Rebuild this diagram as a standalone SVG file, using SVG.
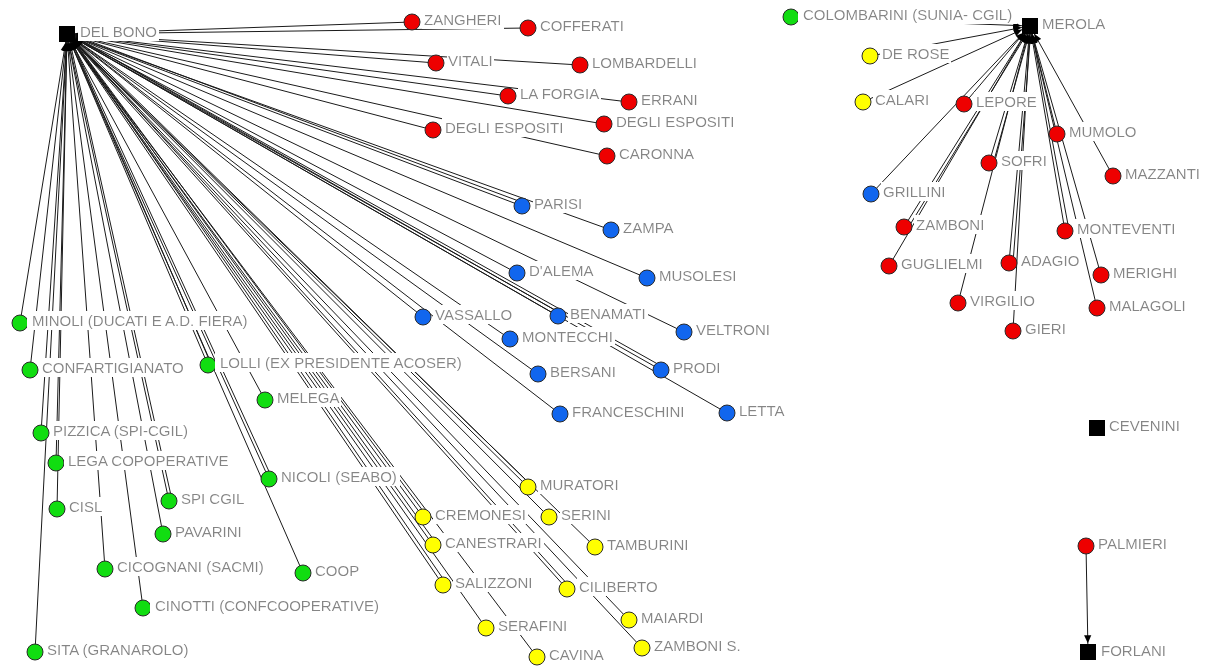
<svg xmlns="http://www.w3.org/2000/svg" width="1207" height="666" viewBox="0 0 1207 666">
<defs>
<marker id="arr" viewBox="0 0 10 10" refX="21" refY="5" markerWidth="9" markerHeight="8" markerUnits="userSpaceOnUse" orient="auto"><path d="M0,0.5 L10,5 L0,9.5z" fill="#000"/></marker>
<filter id="bg" x="-0.02" y="-0.05" width="1.04" height="1.1"><feFlood flood-color="#ffffff"/><feComposite in="SourceGraphic" operator="over"/></filter>
<style>
.e{stroke:#1a1a1a;stroke-width:1;fill:none;marker-end:url(#arr)}
text{font-family:"Liberation Sans",Arial,sans-serif;font-size:15px;fill:#858585;filter:url(#bg)}
circle{stroke:#2a2a2a;stroke-width:1}
.r{fill:#ee0000}.g{fill:#11dd11}.b{fill:#1166ee}.y{fill:#ffff00}
.sq{fill:#000}
</style>
</defs>
<rect width="1207" height="666" fill="#fff"/>
<g id="connectors">
<line class="e" x1="412" y1="22" x2="67" y2="34"/>
<line class="e" x1="528" y1="28" x2="67" y2="34"/>
<line class="e" x1="436" y1="63" x2="67" y2="34"/>
<line class="e" x1="580" y1="65" x2="67" y2="34"/>
<line class="e" x1="508" y1="96" x2="67" y2="34"/>
<line class="e" x1="629" y1="102" x2="67" y2="34"/>
<line class="e" x1="433" y1="130" x2="67" y2="34"/>
<line class="e" x1="604" y1="124" x2="67" y2="34"/>
<line class="e" x1="607" y1="156" x2="67" y2="34"/>
<line class="e" x1="522" y1="206" x2="67" y2="34"/>
<line class="e" x1="524" y1="203" x2="68" y2="33"/>
<line class="e" x1="611" y1="230" x2="67" y2="34"/>
<line class="e" x1="517" y1="273" x2="67" y2="34"/>
<line class="e" x1="647" y1="278" x2="67" y2="34"/>
<line class="e" x1="423" y1="317" x2="67" y2="34"/>
<line class="e" x1="558" y1="316" x2="67" y2="34"/>
<line class="e" x1="560" y1="313" x2="68" y2="33"/>
<line class="e" x1="510" y1="339" x2="67" y2="34"/>
<line class="e" x1="684" y1="332" x2="67" y2="34"/>
<line class="e" x1="538" y1="374" x2="67" y2="34"/>
<line class="e" x1="661" y1="370" x2="67" y2="34"/>
<line class="e" x1="663" y1="367" x2="68" y2="33"/>
<line class="e" x1="560" y1="414" x2="67" y2="34"/>
<line class="e" x1="727" y1="413" x2="67" y2="34"/>
<line class="e" x1="20" y1="323" x2="67" y2="34"/>
<line class="e" x1="30" y1="370" x2="67" y2="34"/>
<line class="e" x1="208" y1="365" x2="67" y2="34"/>
<line class="e" x1="211" y1="364" x2="68" y2="33"/>
<line class="e" x1="265" y1="400" x2="67" y2="34"/>
<line class="e" x1="41" y1="433" x2="67" y2="34"/>
<line class="e" x1="56" y1="463" x2="67" y2="34"/>
<line class="e" x1="269" y1="479" x2="67" y2="34"/>
<line class="e" x1="272" y1="478" x2="68" y2="33"/>
<line class="e" x1="169" y1="501" x2="67" y2="34"/>
<line class="e" x1="172" y1="500" x2="68" y2="33"/>
<line class="e" x1="57" y1="509" x2="67" y2="34"/>
<line class="e" x1="163" y1="534" x2="67" y2="34"/>
<line class="e" x1="105" y1="569" x2="67" y2="34"/>
<line class="e" x1="303" y1="573" x2="67" y2="34"/>
<line class="e" x1="143" y1="608" x2="67" y2="34"/>
<line class="e" x1="35" y1="652" x2="67" y2="34"/>
<line class="e" x1="528" y1="487" x2="67" y2="34"/>
<line class="e" x1="531" y1="485" x2="68" y2="33"/>
<line class="e" x1="423" y1="517" x2="67" y2="34"/>
<line class="e" x1="426" y1="515" x2="68" y2="33"/>
<line class="e" x1="549" y1="517" x2="67" y2="34"/>
<line class="e" x1="433" y1="545" x2="67" y2="34"/>
<line class="e" x1="436" y1="543" x2="68" y2="33"/>
<line class="e" x1="595" y1="547" x2="67" y2="34"/>
<line class="e" x1="443" y1="585" x2="67" y2="34"/>
<line class="e" x1="446" y1="583" x2="68" y2="33"/>
<line class="e" x1="567" y1="589" x2="67" y2="34"/>
<line class="e" x1="570" y1="587" x2="68" y2="33"/>
<line class="e" x1="629" y1="620" x2="67" y2="34"/>
<line class="e" x1="486" y1="628" x2="67" y2="34"/>
<line class="e" x1="642" y1="648" x2="67" y2="34"/>
<line class="e" x1="537" y1="657" x2="67" y2="34"/>
<line class="e" x1="791" y1="17" x2="1030" y2="26"/>
<line class="e" x1="870" y1="56" x2="1030" y2="26"/>
<line class="e" x1="863" y1="102" x2="1030" y2="26"/>
<line class="e" x1="964" y1="104" x2="1030" y2="26"/>
<line class="e" x1="871" y1="194" x2="1030" y2="26"/>
<line class="e" x1="904" y1="227" x2="1030" y2="26"/>
<line class="e" x1="908" y1="228" x2="1031" y2="27"/>
<line class="e" x1="889" y1="266" x2="1030" y2="26"/>
<line class="e" x1="989" y1="163" x2="1030" y2="26"/>
<line class="e" x1="993" y1="164" x2="1031" y2="27"/>
<line class="e" x1="958" y1="303" x2="1030" y2="26"/>
<line class="e" x1="1009" y1="263" x2="1030" y2="26"/>
<line class="e" x1="1013" y1="263" x2="1031" y2="27"/>
<line class="e" x1="1013" y1="331" x2="1030" y2="26"/>
<line class="e" x1="1057" y1="134" x2="1030" y2="26"/>
<line class="e" x1="1065" y1="231" x2="1030" y2="26"/>
<line class="e" x1="1069" y1="230" x2="1031" y2="27"/>
<line class="e" x1="1113" y1="176" x2="1030" y2="26"/>
<line class="e" x1="1101" y1="275" x2="1030" y2="26"/>
<line class="e" x1="1097" y1="308" x2="1030" y2="26"/>
<line class="e" x1="1086" y1="546" x2="1088" y2="652"/>
</g>
<g id="DEL_BONO"><rect class="sq" x="59" y="26" width="16" height="16"/><text x="80" y="37">DEL BONO</text></g>
<g id="MEROLA"><rect class="sq" x="1022" y="18" width="16" height="16"/><text x="1042" y="29">MEROLA</text></g>
<g id="CEVENINI"><rect class="sq" x="1089" y="420" width="16" height="16"/><text x="1109" y="431">CEVENINI</text></g>
<g id="FORLANI"><rect class="sq" x="1080" y="644" width="16" height="16"/><text x="1101" y="656">FORLANI</text></g>
<g id="ZANGHERI"><circle class="r" cx="412" cy="22" r="8"/><text x="424" y="25">ZANGHERI</text></g>
<g id="COFFERATI"><circle class="r" cx="528" cy="28" r="8"/><text x="540" y="31">COFFERATI</text></g>
<g id="VITALI"><circle class="r" cx="436" cy="63" r="8"/><text x="448" y="66">VITALI</text></g>
<g id="LOMBARDELLI"><circle class="r" cx="580" cy="65" r="8"/><text x="592" y="68">LOMBARDELLI</text></g>
<g id="LA_FORGIA"><circle class="r" cx="508" cy="96" r="8"/><text x="520" y="99">LA FORGIA</text></g>
<g id="ERRANI"><circle class="r" cx="629" cy="102" r="8"/><text x="641" y="105">ERRANI</text></g>
<g id="DEGLI_ESPOSITI_1"><circle class="r" cx="433" cy="130" r="8"/><text x="445" y="133">DEGLI ESPOSITI</text></g>
<g id="DEGLI_ESPOSITI_2"><circle class="r" cx="604" cy="124" r="8"/><text x="616" y="127">DEGLI ESPOSITI</text></g>
<g id="CARONNA"><circle class="r" cx="607" cy="156" r="8"/><text x="619" y="159">CARONNA</text></g>
<g id="PARISI"><circle class="b" cx="522" cy="206" r="8"/><text x="534" y="209">PARISI</text></g>
<g id="ZAMPA"><circle class="b" cx="611" cy="230" r="8"/><text x="623" y="233">ZAMPA</text></g>
<g id="DALEMA"><circle class="b" cx="517" cy="273" r="8"/><text x="529" y="276">D'ALEMA</text></g>
<g id="MUSOLESI"><circle class="b" cx="647" cy="278" r="8"/><text x="659" y="281">MUSOLESI</text></g>
<g id="VASSALLO"><circle class="b" cx="423" cy="317" r="8"/><text x="435" y="320">VASSALLO</text></g>
<g id="BENAMATI"><circle class="b" cx="558" cy="316" r="8"/><text x="570" y="319">BENAMATI</text></g>
<g id="MONTECCHI"><circle class="b" cx="510" cy="339" r="8"/><text x="522" y="342">MONTECCHI</text></g>
<g id="VELTRONI"><circle class="b" cx="684" cy="332" r="8"/><text x="696" y="335">VELTRONI</text></g>
<g id="BERSANI"><circle class="b" cx="538" cy="374" r="8"/><text x="550" y="377">BERSANI</text></g>
<g id="PRODI"><circle class="b" cx="661" cy="370" r="8"/><text x="673" y="373">PRODI</text></g>
<g id="FRANCESCHINI"><circle class="b" cx="560" cy="414" r="8"/><text x="572" y="417">FRANCESCHINI</text></g>
<g id="LETTA"><circle class="b" cx="727" cy="413" r="8"/><text x="739" y="416">LETTA</text></g>
<g id="MINOLI"><circle class="g" cx="20" cy="323" r="8"/><text x="32" y="326">MINOLI (DUCATI E A.D. FIERA)</text></g>
<g id="CONFARTIGIANATO"><circle class="g" cx="30" cy="370" r="8"/><text x="42" y="373">CONFARTIGIANATO</text></g>
<g id="LOLLI"><circle class="g" cx="208" cy="365" r="8"/><text x="220" y="368">LOLLI (EX PRESIDENTE ACOSER)</text></g>
<g id="MELEGA"><circle class="g" cx="265" cy="400" r="8"/><text x="277" y="403">MELEGA</text></g>
<g id="PIZZICA"><circle class="g" cx="41" cy="433" r="8"/><text x="53" y="436">PIZZICA (SPI-CGIL)</text></g>
<g id="LEGA_COPOPERATIVE"><circle class="g" cx="56" cy="463" r="8"/><text x="68" y="466">LEGA COPOPERATIVE</text></g>
<g id="NICOLI"><circle class="g" cx="269" cy="479" r="8"/><text x="281" y="482">NICOLI (SEABO)</text></g>
<g id="SPI_CGIL"><circle class="g" cx="169" cy="501" r="8"/><text x="181" y="504">SPI CGIL</text></g>
<g id="CISL"><circle class="g" cx="57" cy="509" r="8"/><text x="69" y="512">CISL</text></g>
<g id="PAVARINI"><circle class="g" cx="163" cy="534" r="8"/><text x="175" y="537">PAVARINI</text></g>
<g id="CICOGNANI"><circle class="g" cx="105" cy="569" r="8"/><text x="117" y="572">CICOGNANI (SACMI)</text></g>
<g id="COOP"><circle class="g" cx="303" cy="573" r="8"/><text x="315" y="576">COOP</text></g>
<g id="CINOTTI"><circle class="g" cx="143" cy="608" r="8"/><text x="155" y="611">CINOTTI (CONFCOOPERATIVE)</text></g>
<g id="SITA"><circle class="g" cx="35" cy="652" r="8"/><text x="47" y="655">SITA (GRANAROLO)</text></g>
<g id="MURATORI"><circle class="y" cx="528" cy="487" r="8"/><text x="540" y="490">MURATORI</text></g>
<g id="CREMONESI"><circle class="y" cx="423" cy="517" r="8"/><text x="435" y="520">CREMONESI</text></g>
<g id="SERINI"><circle class="y" cx="549" cy="517" r="8"/><text x="561" y="520">SERINI</text></g>
<g id="CANESTRARI"><circle class="y" cx="433" cy="545" r="8"/><text x="445" y="548">CANESTRARI</text></g>
<g id="TAMBURINI"><circle class="y" cx="595" cy="547" r="8"/><text x="607" y="550">TAMBURINI</text></g>
<g id="SALIZZONI"><circle class="y" cx="443" cy="585" r="8"/><text x="455" y="588">SALIZZONI</text></g>
<g id="CILIBERTO"><circle class="y" cx="567" cy="589" r="8"/><text x="579" y="592">CILIBERTO</text></g>
<g id="MAIARDI"><circle class="y" cx="629" cy="620" r="8"/><text x="641" y="623">MAIARDI</text></g>
<g id="SERAFINI"><circle class="y" cx="486" cy="628" r="8"/><text x="498" y="631">SERAFINI</text></g>
<g id="ZAMBONI_S"><circle class="y" cx="642" cy="648" r="8"/><text x="654" y="651">ZAMBONI S.</text></g>
<g id="CAVINA"><circle class="y" cx="537" cy="657" r="8"/><text x="549" y="660">CAVINA</text></g>
<g id="COLOMBARINI"><circle class="g" cx="791" cy="17" r="8"/><text x="803" y="20">COLOMBARINI (SUNIA- CGIL)</text></g>
<g id="DE_ROSE"><circle class="y" cx="870" cy="56" r="8"/><text x="882" y="59">DE ROSE</text></g>
<g id="CALARI"><circle class="y" cx="863" cy="102" r="8"/><text x="875" y="105">CALARI</text></g>
<g id="LEPORE"><circle class="r" cx="964" cy="104" r="8"/><text x="976" y="107">LEPORE</text></g>
<g id="MUMOLO"><circle class="r" cx="1057" cy="134" r="8"/><text x="1069" y="137">MUMOLO</text></g>
<g id="SOFRI"><circle class="r" cx="989" cy="163" r="8"/><text x="1001" y="166">SOFRI</text></g>
<g id="MAZZANTI"><circle class="r" cx="1113" cy="176" r="8"/><text x="1125" y="179">MAZZANTI</text></g>
<g id="GRILLINI"><circle class="b" cx="871" cy="194" r="8"/><text x="883" y="197">GRILLINI</text></g>
<g id="ZAMBONI"><circle class="r" cx="904" cy="227" r="8"/><text x="916" y="230">ZAMBONI</text></g>
<g id="MONTEVENTI"><circle class="r" cx="1065" cy="231" r="8"/><text x="1077" y="234">MONTEVENTI</text></g>
<g id="GUGLIELMI"><circle class="r" cx="889" cy="266" r="8"/><text x="901" y="269">GUGLIELMI</text></g>
<g id="ADAGIO"><circle class="r" cx="1009" cy="263" r="8"/><text x="1021" y="266">ADAGIO</text></g>
<g id="MERIGHI"><circle class="r" cx="1101" cy="275" r="8"/><text x="1113" y="278">MERIGHI</text></g>
<g id="VIRGILIO"><circle class="r" cx="958" cy="303" r="8"/><text x="970" y="306">VIRGILIO</text></g>
<g id="MALAGOLI"><circle class="r" cx="1097" cy="308" r="8"/><text x="1109" y="311">MALAGOLI</text></g>
<g id="GIERI"><circle class="r" cx="1013" cy="331" r="8"/><text x="1025" y="334">GIERI</text></g>
<g id="PALMIERI"><circle class="r" cx="1086" cy="546" r="8"/><text x="1098" y="549">PALMIERI</text></g>
</svg>
